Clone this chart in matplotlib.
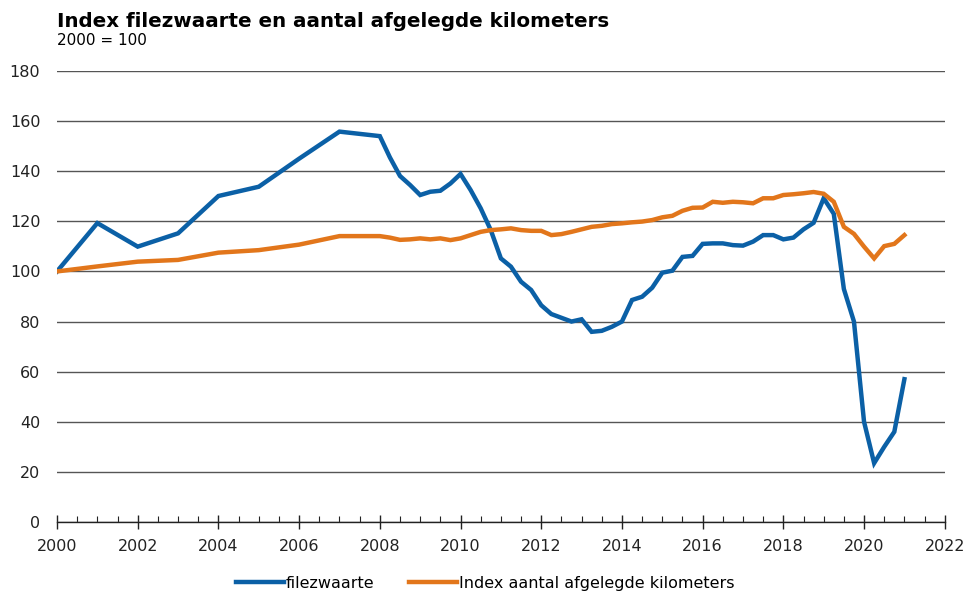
import matplotlib
matplotlib.use("Agg")
import matplotlib.pyplot as plt
from matplotlib.ticker import MultipleLocator

# periods: yearly up to 2008, then quarterly
periods = [2000, 2001, 2002, 2003, 2004, 2005, 2006, 2007, 2008,
           2008.25, 2008.5, 2008.75, 2009, 2009.25, 2009.5, 2009.75, 2010,
           2010.25, 2010.5, 2010.75, 2011, 2011.25, 2011.5, 2011.75, 2012,
           2012.25, 2012.5, 2012.75, 2013, 2013.25, 2013.5, 2013.75, 2014,
           2014.25, 2014.5, 2014.75, 2015, 2015.25, 2015.5, 2015.75, 2016,
           2016.25, 2016.5, 2016.75, 2017, 2017.25, 2017.5, 2017.75, 2018,
           2018.25, 2018.5, 2018.75, 2019, 2019.25, 2019.5, 2019.75, 2020,
           2020.25, 2020.5, 2020.75, 2021]

filezwaarte = [100, 119.3, 109.9, 115.2, 130.1, 133.8, 145, 155.8, 154,
               145.5, 138.1, 134.5, 130.5, 131.8, 132.2, 135.1, 138.9,
               132.5, 125.2, 116.5, 105.2, 101.9, 95.9, 92.6, 86.5,
               83, 81.5, 80, 80.9, 75.9, 76.3, 77.9, 80,
               88.6, 89.9, 93.5, 99.5, 100.3, 105.8, 106.2, 111,
               111.2, 111.2, 110.5, 110.3, 111.9, 114.5, 114.5, 112.8,
               113.5, 116.8, 119.4, 129.2, 123, 93, 80, 40,
               23.5, 30, 36, 57]

kilometers = [100, 102, 103.9, 104.6, 107.5, 108.5, 110.7, 114.1, 114.1,
              113.5, 112.6, 112.8, 113.2, 112.8, 113.2, 112.5, 113.2,
              114.5, 115.8, 116.5, 116.8, 117.2, 116.5, 116.2, 116.2,
              114.5, 114.9, 115.8, 116.8, 117.8, 118.2, 118.9, 119.2,
              119.6, 119.9, 120.5, 121.6, 122.2, 124.2, 125.4, 125.5,
              127.8, 127.4, 127.8, 127.6, 127.2, 129.2, 129.2, 130.5,
              130.8, 131.2, 131.7, 131, 127.8, 117.8, 115, 109.9,
              105.2, 110.1, 111, 114.5]

blue = '#0b60a6'
orange = '#e2761b'

plt.rcParams['font.family'] = ['DejaVu Sans']
fig = plt.figure(figsize=(9.66, 5.94), dpi=100)
ax = fig.add_axes([0.059, 0.1212, 0.919, 0.7593])

ax.plot(periods, filezwaarte, color=blue, lw=3.2, label='filezwaarte',
        solid_joinstyle='miter', zorder=3)
ax.plot(periods, kilometers, color=orange, lw=3.2,
        label='Index aantal afgelegde kilometers', solid_joinstyle='miter', zorder=3)

ax.set_xlim(2000, 2022)
ax.set_ylim(0, 180)
ax.set_yticks(range(0, 181, 20))
ax.xaxis.set_major_locator(MultipleLocator(2))
ax.xaxis.set_minor_locator(MultipleLocator(0.5))
ax.yaxis.grid(True, color='#555555', lw=1)
ax.set_axisbelow(True)
for s in ['top', 'right', 'left']:
    ax.spines[s].set_visible(False)
ax.spines['bottom'].set_color('#222222')
ax.spines['bottom'].set_linewidth(1)
ax.tick_params(axis='y', length=0, pad=12, labelsize=11.5, colors='#222222')
ax.tick_params(axis='x', which='major', direction='inout', length=10, width=1,
               pad=7, labelsize=11.5, colors='#222222')
ax.tick_params(axis='x', which='minor', direction='in', length=4, width=0.8,
               color='#222222')

fig.text(0.059, 0.9545, 'Index filezwaarte en aantal afgelegde kilometers',
         fontsize=14.3, fontweight='bold', va='baseline', ha='left')
fig.text(0.059, 0.924, '2000 = 100', fontsize=11, va='baseline', ha='left')

fig.legend(loc='center', bbox_to_anchor=(0.502, 0.018), ncol=2, frameon=False,
           fontsize=11.5, handlelength=3.0, handletextpad=0.1, columnspacing=2.2)

fig.savefig('out.png', dpi=100)
